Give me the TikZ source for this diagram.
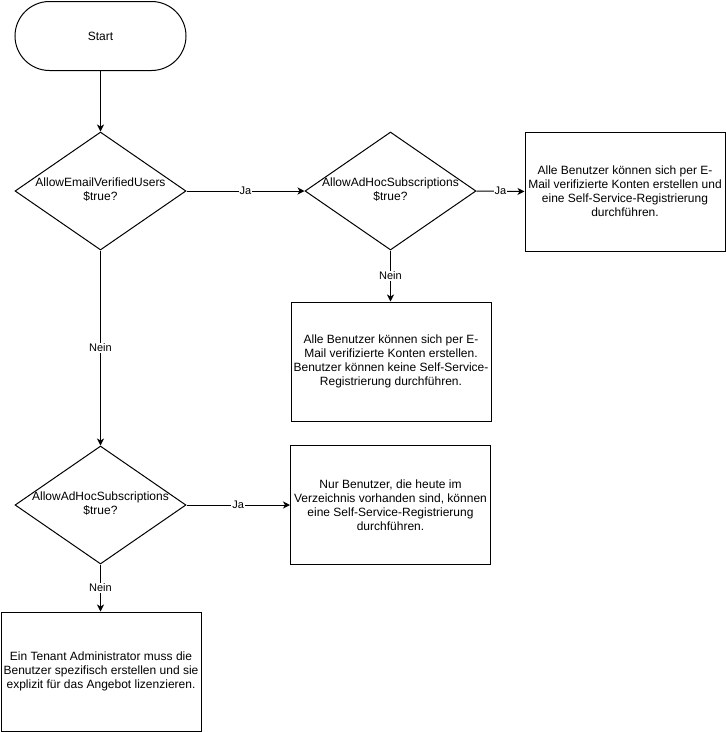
\documentclass[tikz,border=0pt]{standalone}
\usepackage{fontspec}
\setmainfont{Liberation Sans}
\usetikzlibrary{shapes.geometric,shapes.misc,arrows.meta}
\begin{document}
\begin{tikzpicture}[x=1pt,y=-1pt, line width=1pt,
  txt/.style={font=\fontsize{12}{14}\selectfont, align=center},
  box/.style={draw, rectangle, minimum width=200pt, minimum height=119pt, inner sep=0pt, txt},
  dec/.style={draw, diamond, minimum width=171pt, minimum height=118pt, inner sep=0pt},
  term/.style={draw, rounded rectangle, minimum width=171pt, minimum height=69pt, inner sep=0pt, txt},
  arr/.style={-{Stealth[length=7pt,width=7pt,inset=2pt]}},
  lbl/.style={fill=white, inner sep=1pt, font=\fontsize{11}{13}\selectfont}]
\useasboundingbox (0,0) rectangle (726,732);

\node[term] (start) at (100.5,36) {Start};

\node[dec] (d1) at (100.5,191) {};
\node[txt] (d1t) at (100.5,190) {AllowEmailVerifiedUsers\\\$true?};

\node[dec] (d2) at (390.5,191) {};
\node[txt] (d2t) at (390.5,190) {AllowAdHocSubscriptions\\\$true?};

\node[box] (b1) at (625,191.5) {Alle Benutzer können sich per E-\\Mail verifizierte Konten erstellen und\\eine Self-Service-Registrierung\\durchführen.};

\node[box] (b2) at (391,361.5) {Alle Benutzer können sich per E-\\Mail verifizierte Konten erstellen.\\Benutzer können keine Self-Service-\\Registrierung durchführen.};

\node[dec] (d3) at (100.5,505) {};
\node[txt] (d3t) at (100.5,504) {AllowAdHocSubscriptions\\\$true?};

\node[box] (b3) at (390.5,505) {Nur Benutzer, die heute im\\Verzeichnis vorhanden sind, können\\eine Self-Service-Registrierung\\durchführen.};

\node[box] (b4) at (101,671.5) {Ein Tenant Administrator muss die\\Benutzer spezifisch erstellen und sie\\explizit für das Angebot lizenzieren.};

\draw[arr] (start.south) -- (d1.north);
\draw[arr] (d1.east) -- node[lbl]{Ja} (d2.west);
\draw[arr] (d2.east) -- node[lbl]{Ja} (b1.west);
\draw[arr] (d2.south) -- node[lbl]{Nein} (d2.south |- b2.north);
\draw[arr] (d1.south) -- node[lbl]{Nein} (d3.north);
\draw[arr] (d3.east) -- node[lbl]{Ja} (b3.west);
\draw[arr] (d3.south) -- node[lbl]{Nein} (d3.south |- b4.north);
\end{tikzpicture}
\end{document}
